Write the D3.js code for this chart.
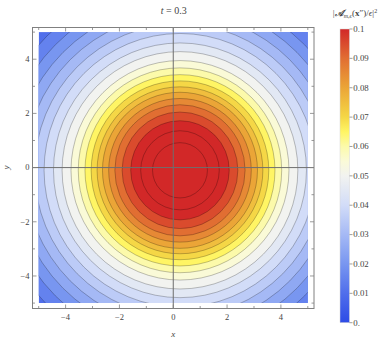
<!DOCTYPE html>
<html>
<head>
<meta charset="utf-8">
<script src="https://cdn.jsdelivr.net/npm/d3@7"></script>
<style>
body { margin: 0; background: #fff; }
svg text { font-family: "Liberation Serif", "DejaVu Serif", serif; fill: #444; }
</style>
</head>
<body>
<div id="chartDiv"></div>
<script>
// contour levels and the radius (in plot units) where each circle crosses
var levels = [0.01, 0.015, 0.02, 0.025, 0.03, 0.035, 0.04, 0.045, 0.05, 0.055, 0.06, 0.065,
	0.07, 0.075, 0.08, 0.085, 0.09, 0.095, 0.1, 0.105];
var radii = [7.0, 6.55, 6.15, 5.77, 5.4, 5.05, 4.7, 4.38, 4.05, 3.78, 3.53, 3.3,
	3.08, 2.88, 2.65, 2.42, 2.15, 1.83, 1.46, 1.02];
var peakCenter = [0.25, -0.1];
var levelStep = 0.005;

// colour map (TemperatureMap-like) sampled from the legend
var colorStops = [0, 0.01, 0.02, 0.03, 0.04, 0.05, 0.055, 0.06, 0.065, 0.07, 0.08, 0.09, 0.1];
var colorValues = ["#2d4be6", "#506eeb", "#7896f0", "#a5b9f5", "#d2dcf8", "#f2f3f0", "#fafad7",
	"#fcfaaa", "#fff564", "#f5d746", "#eba537", "#e16e32", "#d22828"];

var axisTicks = [-5, -4, -3, -2, -1, 0, 1, 2, 3, 4, 5];
var axisLabels = [-4, -2, 0, 2, 4];
var barTicks = [0, 0.01, 0.02, 0.03, 0.04, 0.05, 0.06, 0.07, 0.08, 0.09, 0.1];
var barLabels = ["0.", "0.01", "0.02", "0.03", "0.04", "0.05", "0.06", "0.07", "0.08", "0.09", "0.1"];

var W = 389, H = 346;
var frame = {left: 32.5, right: 314, top: 27.5, bottom: 308.5};

var svg = d3.select("#chartDiv").append("svg")
	.attr("width", W).attr("height", H);

var x = d3.scaleLinear().domain([-5.23, 5.23]).range([frame.left, frame.right]);
var y = d3.scaleLinear().domain([-5.2, 5.17]).range([frame.bottom, frame.top]);

var color = d3.scaleLinear().domain(colorStops).range(colorValues).clamp(true);

var defs = svg.append("defs");
defs.append("clipPath").attr("id", "plotClip")
	.append("rect")
	.attr("x", x(-5)).attr("y", y(5))
	.attr("width", x(5) - x(-5)).attr("height", y(-5) - y(5));

var plot = svg.append("g").attr("clip-path", "url(#plotClip)");

// lowest band (below the first contour)
plot.append("rect")
	.attr("x", x(-5)).attr("y", y(5))
	.attr("width", x(5) - x(-5)).attr("height", y(-5) - y(5))
	.attr("fill", color(levels[0]));

var bands = levels.map(function(l, i) { return {level: l, r: radii[i]}; });

// each band coloured by its upper bound
plot.selectAll("ellipse.band")
	.data(bands)
	.enter().append("ellipse")
	.attr("class", "band")
	.attr("cx", x(peakCenter[0]))
	.attr("cy", y(peakCenter[1]))
	.attr("rx", function(d) { return x(d.r) - x(0); })
	.attr("ry", function(d) { return y(0) - y(d.r); })
	.attr("fill", function(d) { return color(d.level + levelStep); })
	.attr("stroke", "rgba(0,0,0,0.38)")
	.attr("stroke-width", 0.65);

// zero axes
svg.append("line")
	.attr("x1", x(0)).attr("x2", x(0))
	.attr("y1", frame.top).attr("y2", frame.bottom)
	.attr("stroke", "#6e6e6e").attr("stroke-width", 1);
svg.append("line")
	.attr("x1", frame.left).attr("x2", frame.right)
	.attr("y1", y(0)).attr("y2", y(0))
	.attr("stroke", "#6e6e6e").attr("stroke-width", 1);

// frame
svg.append("rect")
	.attr("x", frame.left).attr("y", frame.top)
	.attr("width", frame.right - frame.left).attr("height", frame.bottom - frame.top)
	.attr("fill", "none").attr("stroke", "#808080").attr("stroke-width", 1);

function tickLen(v) { return (v % 2 === 0) ? 4 : 2.5; }

var tickG = svg.append("g").attr("stroke", "#808080").attr("stroke-width", 0.8);
axisTicks.forEach(function(v) {
	tickG.append("line").attr("x1", x(v)).attr("x2", x(v))
		.attr("y1", frame.bottom).attr("y2", frame.bottom - tickLen(v));
	tickG.append("line").attr("x1", x(v)).attr("x2", x(v))
		.attr("y1", frame.top).attr("y2", frame.top + tickLen(v));
	tickG.append("line").attr("y1", y(v)).attr("y2", y(v))
		.attr("x1", frame.left).attr("x2", frame.left + tickLen(v));
	tickG.append("line").attr("y1", y(v)).attr("y2", y(v))
		.attr("x1", frame.right).attr("x2", frame.right - tickLen(v));
});

function fmt(v) { return v < 0 ? "\u2212" + Math.abs(v) : String(v); }

svg.selectAll("text.xlab")
	.data(axisLabels)
	.enter().append("text")
	.attr("class", "xlab")
	.attr("x", function(d) { return x(d); })
	.attr("y", 319.5)
	.attr("text-anchor", "middle")
	.style("font-size", "8.5px")
	.text(fmt);

svg.selectAll("text.ylab")
	.data(axisLabels)
	.enter().append("text")
	.attr("class", "ylab")
	.attr("x", 29.5)
	.attr("y", function(d) { return y(d); })
	.attr("dy", "0.33em")
	.attr("text-anchor", "end")
	.style("font-size", "8.5px")
	.text(fmt);

svg.append("text")
	.attr("x", x(0)).attr("y", 337)
	.attr("text-anchor", "middle")
	.style("font-size", "9px").style("font-style", "italic")
	.text("x");

svg.append("text")
	.attr("transform", "translate(9," + y(0) + ") rotate(-90)")
	.attr("text-anchor", "middle")
	.style("font-size", "9px").style("font-style", "italic")
	.text("y");

// title
var title = svg.append("text")
	.attr("x", 173.8).attr("y", 13.5)
	.attr("text-anchor", "middle")
	.style("font-size", "10px");
title.append("tspan").style("font-style", "italic").text("t");
title.append("tspan").text(" = 0.3");

// colour bar
var bar = {x0: 340, x1: 349.5, top: 29, bottom: 322.7};
var cb = d3.scaleLinear().domain([0, 0.1]).range([bar.bottom, bar.top]);

var grad = defs.append("linearGradient").attr("id", "cbGrad")
	.attr("x1", 0).attr("y1", 1).attr("x2", 0).attr("y2", 0);
grad.selectAll("stop")
	.data(colorStops)
	.enter().append("stop")
	.attr("offset", function(d) { return d / 0.1; })
	.attr("stop-color", function(d) { return color(d); });

svg.append("rect")
	.attr("x", bar.x0).attr("y", bar.top)
	.attr("width", bar.x1 - bar.x0).attr("height", bar.bottom - bar.top)
	.attr("fill", "url(#cbGrad)")
	.attr("stroke", "#d8d8d8").attr("stroke-width", 0.5);

svg.selectAll("line.cbtick")
	.data(barTicks)
	.enter().append("line")
	.attr("class", "cbtick")
	.attr("x1", bar.x1).attr("x2", bar.x1 + 3)
	.attr("y1", function(d) { return cb(d); })
	.attr("y2", function(d) { return cb(d); })
	.attr("stroke", "#777").attr("stroke-width", 0.7);

svg.selectAll("text.cblab")
	.data(barTicks)
	.enter().append("text")
	.attr("class", "cblab")
	.attr("x", 353.3)
	.attr("y", function(d) { return cb(d); })
	.attr("dy", "0.33em")
	.style("font-size", "8.8px")
	.text(function(d, i) { return barLabels[i]; });

// colour bar title |A_{m,e}(x'')/e|^2
var cbt = svg.append("text")
	.attr("x", 355).attr("y", 16)
	.attr("text-anchor", "middle")
	.style("font-size", "9px");
cbt.append("tspan").text("|");
cbt.append("tspan").style("font-weight", "bold").style("font-style", "italic").text("\u{1D49C}");
cbt.append("tspan").attr("dy", 2).style("font-size", "6px").style("font-style", "italic").text("m,\u03F5");
cbt.append("tspan").attr("dy", -2).text("(");
cbt.append("tspan").style("font-weight", "bold").text("x");
cbt.append("tspan").text("\u2033)/");
cbt.append("tspan").style("font-style", "italic").text("\u03F5");
cbt.append("tspan").text("|");
cbt.append("tspan").attr("dy", -3.5).style("font-size", "6px").text("2");
</script>
</body>
</html>
